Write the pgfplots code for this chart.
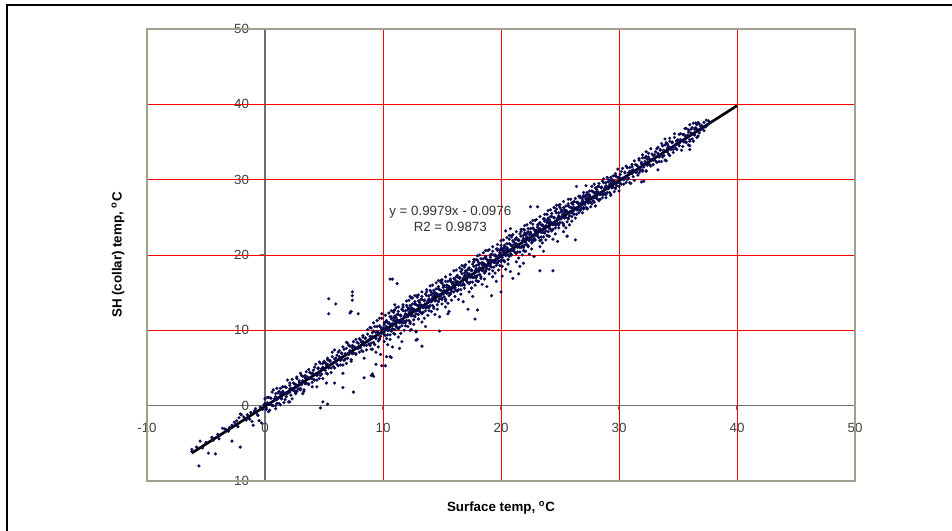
\documentclass[border=0pt]{standalone}
\usepackage{fontspec}
\setmainfont{Liberation Sans}
\usepackage{pgfplots}
\pgfplotsset{compat=1.18}
\definecolor{gridred}{RGB}{255,0,0}
\definecolor{axgray}{RGB}{110,110,110}
\definecolor{bordergray}{RGB}{160,160,145}
\definecolor{navypt}{RGB}{10,10,80}
\begin{document}
\begin{tikzpicture}
\useasboundingbox (0,0) rectangle (714pt,398.25pt);
\fill[white] (0,0) rectangle (714pt,398.25pt);
\draw[line width=1.6pt,black] (5.25pt,-2pt) -- (5.25pt,394.5pt) -- (716pt,394.5pt);
\begin{axis}[
  at={(110.25pt,37.5pt)}, anchor=south west,
  scale only axis, width=531pt, height=339pt,
  xmin=-10, xmax=50, ymin=-10, ymax=50,
  axis lines=middle,
  axis line style={draw=axgray, line width=0.8pt, -},
  every inner x axis line/.append style={-},
  every inner y axis line/.append style={-},
  hide obscured x ticks=false, hide obscured y ticks=false,
  xtick={-10,0,10,20,30,40,50}, ytick={-10,0,10,20,30,40,50},
  xticklabels={-10,0,10,20,30,40,50}, yticklabels={-10,0,10,20,30,40,50},
  major tick length=3.5pt, tick align=outside,
  tick style={draw=axgray, line width=0.8pt},
  tick label style={font=\fontsize{10}{12}\selectfont, text=black!75},
  xticklabel style={yshift=-6pt},
  yticklabel style={xshift=-5pt},
  clip=false,
  after end axis/.code={
    \draw[bordergray, line width=1.1pt] (rel axis cs:0,0) rectangle (rel axis cs:1,1);
  },
]
\draw[gridred, line width=0.75pt] (axis cs:10,-10) -- (axis cs:10,50);
\draw[gridred, line width=0.75pt] (axis cs:20,-10) -- (axis cs:20,50);
\draw[gridred, line width=0.75pt] (axis cs:30,-10) -- (axis cs:30,50);
\draw[gridred, line width=0.75pt] (axis cs:40,-10) -- (axis cs:40,50);
\draw[gridred, line width=0.75pt] (axis cs:-10,10) -- (axis cs:50,10);
\draw[gridred, line width=0.75pt] (axis cs:-10,20) -- (axis cs:50,20);
\draw[gridred, line width=0.75pt] (axis cs:-10,30) -- (axis cs:50,30);
\draw[gridred, line width=0.75pt] (axis cs:-10,40) -- (axis cs:50,40);
\addplot[only marks, mark=*, mark size=1.1pt, color=navypt, mark options={draw=navypt, fill=navypt, line width=0.2pt}] coordinates {
(-6.2,-6.1) (-6.2,-5.8) (-5.6,-8.0) (-5.5,-4.7) (-4.8,-6.3) (-4.2,-6.4) (-3.8,-3.9) (-2.8,-4.7) (-2.1,-5.5) (-3.4,-3.1) (-3.3,-3.2) (-2.6,-2.2) (-2.5,-2.5) (-2.3,-2.8) (-2.1,-1.1) (-2.0,-1.2) (-2.2,-1.6) (-1.3,-1.8) (-1.1,-2.1) (-1.0,-2.6) (-0.7,-1.0) (-0.6,-1.3) (-0.3,-2.3) (-0.5,-2.0) (-4.5,-4.2) (-4.0,-3.8) (-3.6,-3.0) (-3.0,-2.9) (-2.8,-2.6) (-1.8,-1.5) (-1.5,-1.2) (-1.2,-0.9) (-0.9,-0.7) (-0.4,-0.2) (-0.2,-0.5) (-5.0,-4.9) (-3.9,-4.4) (-1.6,-1.9) (-5.8,-5.5) (-5.3,-5.6) (-4.4,-4.6) (-3.1,-3.4) (-2.4,-2.0) (-1.4,-1.5) (-0.8,-0.4) (-0.1,0.1)
(0.0,0.3) (0.1,-0.5) (0.2,1.1) (0.3,0.2) (0.4,-0.6) (0.5,1.0) (0.5,0.2) (0.6,1.8) (0.7,0.0) (0.8,0.9) (0.9,1.6) (0.9,-0.4)
(0.9,0.0) (0.9,1.2) (0.8,0.7) (0.7,2.1) (0.6,0.0) (0.5,1.0) (0.4,0.2) (0.3,1.1) (0.3,-0.8) (0.2,0.4) (0.1,-0.3) (0.0,0.9)
(1.0,0.8) (1.1,1.7) (1.2,0.3) (1.3,1.5) (1.3,2.3) (1.4,1.0) (1.5,1.9) (1.6,0.4) (1.7,2.5) (1.8,1.7) (1.8,1.2) (1.9,3.4)
(1.9,1.6) (1.8,2.4) (1.7,0.8) (1.6,1.7) (1.5,2.5) (1.4,0.9) (1.4,1.7) (1.3,0.1) (1.2,1.9) (1.1,1.0) (1.0,0.3) (1.0,2.3)
(2.1,3.0) (2.1,1.8) (2.2,2.3) (2.3,0.9) (2.4,3.0) (2.5,2.0) (2.6,2.8) (2.7,1.9) (2.7,3.8) (2.8,2.6) (2.9,3.3) (3.0,2.1)
(2.9,3.1) (2.8,2.2) (2.7,3.6) (2.6,2.4) (2.6,1.6) (2.5,2.9) (2.4,2.0) (2.3,3.5) (2.2,1.4) (2.1,2.2) (2.1,2.7) (2.0,0.5)
(3.9,3.6) (3.8,4.4) (3.7,2.8) (3.6,3.7) (3.5,4.5) (3.4,2.9) (3.4,3.7) (3.3,2.1) (3.2,3.9) (3.1,3.0) (3.0,2.3) (3.0,4.3)
(3.1,4.0) (3.1,2.8) (3.2,3.3) (3.3,1.9) (3.4,4.0) (3.5,3.0) (3.6,3.8) (3.7,2.9) (3.7,4.8) (3.8,3.6) (3.9,4.3) (4.0,3.1)
(4.9,5.1) (4.8,4.2) (4.7,5.6) (4.6,4.4) (4.6,3.6) (4.5,4.9) (4.4,4.0) (4.3,5.5) (4.2,3.4) (4.1,4.2) (4.1,4.7) (4.0,2.5)
(4.0,4.3) (4.1,3.5) (4.2,5.1) (4.3,4.2) (4.4,3.4) (4.5,5.0) (4.5,4.2) (4.6,5.8) (4.7,4.0) (4.8,4.9) (4.9,5.6) (4.9,3.6)
(5.9,5.0) (5.9,6.2) (5.8,5.7) (5.7,7.1) (5.6,5.0) (5.5,6.0) (5.4,5.2) (5.3,6.1) (5.3,4.2) (5.2,5.4) (5.1,4.7) (5.0,5.9)
(5.0,4.8) (5.1,5.7) (5.2,4.3) (5.3,5.5) (5.3,6.3) (5.4,5.0) (5.5,5.9) (5.6,4.4) (5.7,6.5) (5.8,5.7) (5.8,5.2) (5.9,7.4)
(6.0,6.3) (6.1,5.5) (6.2,7.1) (6.3,6.2) (6.4,5.4) (6.5,7.0) (6.5,6.2) (6.6,7.8) (6.7,6.0) (6.8,6.9) (6.9,7.6) (6.9,5.6)
(6.0,5.8) (6.1,6.7) (6.2,5.3) (6.3,6.5) (6.3,7.3) (6.4,6.0) (6.5,6.9) (6.6,5.4) (6.7,7.5) (6.8,6.7) (6.8,6.2) (6.9,8.4)
(7.1,8.0) (7.1,6.8) (7.2,7.3) (7.3,5.9) (7.4,8.0) (7.5,7.0) (7.6,7.8) (7.7,6.9) (7.7,8.8) (7.8,7.6) (7.9,8.3) (8.0,7.1)
(7.9,7.6) (7.8,8.4) (7.7,6.8) (7.6,7.7) (7.5,8.5) (7.4,6.9) (7.4,7.7) (7.3,6.1) (7.2,7.9) (7.1,7.0) (7.0,6.3) (7.0,8.3)
(8.0,7.8) (8.1,8.7) (8.2,7.3) (8.3,8.5) (8.3,9.3) (8.4,8.0) (8.5,8.9) (8.6,7.4) (8.7,9.5) (8.8,8.7) (8.8,8.2) (8.9,10.4)
(8.9,8.0) (8.9,9.2) (8.8,8.7) (8.7,10.1) (8.6,8.0) (8.5,9.0) (8.4,8.2) (8.3,9.1) (8.3,7.2) (8.2,8.4) (8.1,7.7) (8.0,8.9)
(9.9,9.6) (9.8,10.4) (9.7,8.8) (9.6,9.7) (9.5,10.5) (9.4,8.9) (9.4,9.7) (9.3,8.1) (9.2,9.9) (9.1,9.0) (9.0,8.3) (9.0,10.3)
(9.9,10.1) (9.8,9.2) (9.7,10.6) (9.6,9.4) (9.6,8.6) (9.5,9.9) (9.4,9.0) (9.3,10.5) (9.2,8.4) (9.1,9.2) (9.1,9.7) (9.0,7.5)
(9.1,7.5) (9.2,11.0) (9.4,7.1) (9.5,11.3) (9.6,7.8) (9.7,11.6) (9.8,6.8) (9.9,11.6)
(10.0,10.3) (10.1,9.5) (10.2,11.1) (10.3,10.2) (10.4,9.4) (10.5,11.0) (10.5,10.2) (10.6,11.8) (10.7,10.0) (10.8,10.9) (10.9,11.6) (10.9,9.6)
(10.0,9.8) (10.1,10.7) (10.2,9.3) (10.3,10.5) (10.3,11.3) (10.4,10.0) (10.5,10.9) (10.6,9.4) (10.7,11.5) (10.8,10.7) (10.8,10.2) (10.9,12.4)
(10.1,11.0) (10.1,9.8) (10.2,10.3) (10.3,8.9) (10.4,11.0) (10.5,10.0) (10.6,10.8) (10.7,9.9) (10.7,11.8) (10.8,10.6) (10.9,11.3) (11.0,10.1)
(10.1,8.5) (10.2,12.0) (10.4,8.1) (10.5,12.3) (10.6,8.8) (10.7,12.6) (10.8,7.8) (10.9,12.6)
(11.9,12.1) (11.8,11.2) (11.7,12.6) (11.6,11.4) (11.6,10.6) (11.5,11.9) (11.4,11.0) (11.3,12.5) (11.2,10.4) (11.1,11.2) (11.1,11.7) (11.0,9.5)
(11.9,11.0) (11.9,12.2) (11.8,11.7) (11.7,13.1) (11.6,11.0) (11.5,12.0) (11.4,11.2) (11.3,12.1) (11.3,10.2) (11.2,11.4) (11.1,10.7) (11.0,11.9)
(11.0,11.3) (11.1,10.5) (11.2,12.1) (11.3,11.2) (11.4,10.4) (11.5,12.0) (11.5,11.2) (11.6,12.8) (11.7,11.0) (11.8,11.9) (11.9,12.6) (11.9,10.6)
(11.0,12.7) (11.3,9.1) (11.3,13.1) (11.5,9.6) (11.6,8.5) (11.7,13.4) (11.8,10.0) (12.0,13.9)
(12.1,13.0) (12.1,11.8) (12.2,12.3) (12.3,10.9) (12.4,13.0) (12.5,12.0) (12.6,12.8) (12.7,11.9) (12.7,13.8) (12.8,12.6) (12.9,13.3) (13.0,12.1)
(12.9,12.6) (12.8,13.4) (12.7,11.8) (12.6,12.7) (12.5,13.5) (12.4,11.9) (12.4,12.7) (12.3,11.1) (12.2,12.9) (12.1,12.0) (12.0,11.3) (12.0,13.3)
(12.0,11.8) (12.1,12.7) (12.2,11.3) (12.3,12.5) (12.3,13.3) (12.4,12.0) (12.5,12.9) (12.6,11.4) (12.7,13.5) (12.8,12.7) (12.8,12.2) (12.9,14.4)
(12.1,10.5) (12.2,14.0) (12.4,10.1) (12.5,14.3) (12.6,10.8) (12.7,14.6) (12.8,9.8) (12.9,14.6)
(13.0,13.3) (13.1,12.5) (13.2,14.1) (13.3,13.2) (13.4,12.4) (13.5,14.0) (13.5,13.2) (13.6,14.8) (13.7,13.0) (13.8,13.9) (13.9,14.6) (13.9,12.6)
(13.9,14.1) (13.8,13.2) (13.7,14.6) (13.6,13.4) (13.6,12.6) (13.5,13.9) (13.4,13.0) (13.3,14.5) (13.2,12.4) (13.1,13.2) (13.1,13.7) (13.0,11.5)
(13.9,13.0) (13.9,14.2) (13.8,13.7) (13.7,15.1) (13.6,13.0) (13.5,14.0) (13.4,13.2) (13.3,14.1) (13.3,12.2) (13.2,13.4) (13.1,12.7) (13.0,13.9)
(13.0,14.7) (13.3,11.1) (13.3,15.1) (13.5,11.6) (13.6,10.5) (13.7,15.4) (13.8,12.0) (14.0,15.9)
(14.0,13.8) (14.1,14.7) (14.2,13.3) (14.3,14.5) (14.3,15.3) (14.4,14.0) (14.5,14.9) (14.6,13.4) (14.7,15.5) (14.8,14.7) (14.8,14.2) (14.9,16.4)
(14.1,15.0) (14.1,13.8) (14.2,14.3) (14.3,12.9) (14.4,15.0) (14.5,14.0) (14.6,14.8) (14.7,13.9) (14.7,15.8) (14.8,14.6) (14.9,15.3) (15.0,14.1)
(14.9,14.6) (14.8,15.4) (14.7,13.8) (14.6,14.7) (14.5,15.5) (14.4,13.9) (14.4,14.7) (14.3,13.1) (14.2,14.9) (14.1,14.0) (14.0,13.3) (14.0,15.3)
(14.1,12.5) (14.2,16.0) (14.4,12.1) (14.5,16.3) (14.6,12.8) (14.7,16.6) (14.8,11.8) (14.9,16.6)
(15.9,15.6) (15.8,16.4) (15.7,14.8) (15.6,15.7) (15.5,16.5) (15.4,14.9) (15.4,15.7) (15.3,14.1) (15.2,15.9) (15.1,15.0) (15.0,14.3) (15.0,16.3)
(15.9,16.1) (15.8,15.2) (15.7,16.6) (15.6,15.4) (15.6,14.6) (15.5,15.9) (15.4,15.0) (15.3,16.5) (15.2,14.4) (15.1,15.2) (15.1,15.7) (15.0,13.5)
(15.1,16.0) (15.1,14.8) (15.2,15.3) (15.3,13.9) (15.4,16.0) (15.5,15.0) (15.6,15.8) (15.7,14.9) (15.7,16.8) (15.8,15.6) (15.9,16.3) (16.0,15.1)
(15.0,16.7) (15.3,13.1) (15.3,17.1) (15.5,13.6) (15.6,12.5) (15.7,17.4) (15.8,14.0) (16.0,17.9)
(16.9,16.0) (16.9,17.2) (16.8,16.7) (16.7,18.1) (16.6,16.0) (16.5,17.0) (16.4,16.2) (16.3,17.1) (16.3,15.2) (16.2,16.4) (16.1,15.7) (16.0,16.9)
(16.0,16.3) (16.1,15.5) (16.2,17.1) (16.3,16.2) (16.4,15.4) (16.5,17.0) (16.5,16.2) (16.6,17.8) (16.7,16.0) (16.8,16.9) (16.9,17.6) (16.9,15.6)
(16.0,15.8) (16.1,16.7) (16.2,15.3) (16.3,16.5) (16.3,17.3) (16.4,16.0) (16.5,16.9) (16.6,15.4) (16.7,17.5) (16.8,16.7) (16.8,16.2) (16.9,18.4)
(16.1,14.5) (16.2,18.0) (16.4,14.1) (16.5,18.3) (16.6,14.8) (16.7,18.6) (16.8,13.8) (16.9,18.6)
(17.0,17.3) (17.1,16.5) (17.2,18.1) (17.3,17.2) (17.4,16.4) (17.5,18.0) (17.5,17.2) (17.6,18.8) (17.7,17.0) (17.8,17.9) (17.9,18.6) (17.9,16.6)
(17.0,16.8) (17.1,17.7) (17.2,16.3) (17.3,17.5) (17.3,18.3) (17.4,17.0) (17.5,17.9) (17.6,16.4) (17.7,18.5) (17.8,17.7) (17.8,17.2) (17.9,19.4)
(17.9,17.0) (17.9,18.2) (17.8,17.7) (17.7,19.1) (17.6,17.0) (17.5,18.0) (17.4,17.2) (17.3,18.1) (17.3,16.2) (17.2,17.4) (17.1,16.7) (17.0,17.9)
(17.0,18.7) (17.3,15.1) (17.3,19.1) (17.5,15.6) (17.6,14.5) (17.7,19.4) (17.8,16.0) (18.0,19.9)
(18.9,19.1) (18.8,18.2) (18.7,19.6) (18.6,18.4) (18.6,17.6) (18.5,18.9) (18.4,18.0) (18.3,19.5) (18.2,17.4) (18.1,18.2) (18.1,18.7) (18.0,16.5)
(18.1,19.0) (18.1,17.8) (18.2,18.3) (18.3,16.9) (18.4,19.0) (18.5,18.0) (18.6,18.8) (18.7,17.9) (18.7,19.8) (18.8,18.6) (18.9,19.3) (19.0,18.1)
(18.9,18.6) (18.8,19.4) (18.7,17.8) (18.6,18.7) (18.5,19.5) (18.4,17.9) (18.4,18.7) (18.3,17.1) (18.2,18.9) (18.1,18.0) (18.0,17.3) (18.0,19.3)
(18.1,16.5) (18.2,20.0) (18.4,16.1) (18.5,20.3) (18.6,16.8) (18.7,20.6) (18.8,15.8) (18.9,20.6)
(19.1,20.0) (19.1,18.8) (19.2,19.3) (19.3,17.9) (19.4,20.0) (19.5,19.0) (19.6,19.8) (19.7,18.9) (19.7,20.8) (19.8,19.6) (19.9,20.3) (20.0,19.1)
(19.0,19.3) (19.1,18.5) (19.2,20.1) (19.3,19.2) (19.4,18.4) (19.5,20.0) (19.5,19.2) (19.6,20.8) (19.7,19.0) (19.8,19.9) (19.9,20.6) (19.9,18.6)
(19.9,20.1) (19.8,19.2) (19.7,20.6) (19.6,19.4) (19.6,18.6) (19.5,19.9) (19.4,19.0) (19.3,20.5) (19.2,18.4) (19.1,19.2) (19.1,19.7) (19.0,17.5)
(19.0,20.7) (19.3,17.1) (19.3,21.1) (19.5,17.6) (19.6,16.5) (19.7,21.4) (19.8,18.0) (20.0,21.9)
(20.9,20.6) (20.8,21.4) (20.7,19.8) (20.6,20.7) (20.5,21.5) (20.4,19.9) (20.4,20.7) (20.3,19.1) (20.2,20.9) (20.1,20.0) (20.0,19.3) (20.0,21.3)
(20.0,19.8) (20.1,20.7) (20.2,19.3) (20.3,20.5) (20.3,21.3) (20.4,20.0) (20.5,20.9) (20.6,19.4) (20.7,21.5) (20.8,20.7) (20.8,20.2) (20.9,22.4)
(20.9,20.0) (20.9,21.2) (20.8,20.7) (20.7,22.1) (20.6,20.0) (20.5,21.0) (20.4,20.2) (20.3,21.1) (20.3,19.2) (20.2,20.4) (20.1,19.7) (20.0,20.9)
(20.1,18.5) (20.2,22.0) (20.4,18.1) (20.5,22.3) (20.6,18.8) (20.7,22.6) (20.8,17.8) (20.9,22.6)
(21.0,20.8) (21.1,21.7) (21.2,20.3) (21.3,21.5) (21.3,22.3) (21.4,21.0) (21.5,21.9) (21.6,20.4) (21.7,22.5) (21.8,21.7) (21.8,21.2) (21.9,23.4)
(21.9,21.0) (21.9,22.2) (21.8,21.7) (21.7,23.1) (21.6,21.0) (21.5,22.0) (21.4,21.2) (21.3,22.1) (21.3,20.2) (21.2,21.4) (21.1,20.7) (21.0,21.9)
(21.0,21.3) (21.1,20.5) (21.2,22.1) (21.3,21.2) (21.4,20.4) (21.5,22.0) (21.5,21.2) (21.6,22.8) (21.7,21.0) (21.8,21.9) (21.9,22.6) (21.9,20.6)
(21.0,22.7) (21.3,19.1) (21.3,23.1) (21.5,19.6) (21.6,18.5) (21.7,23.4) (21.8,20.0) (22.0,23.9)
(22.9,22.0) (22.9,23.2) (22.8,22.7) (22.7,24.1) (22.6,22.0) (22.5,23.0) (22.4,22.2) (22.3,23.1) (22.3,21.2) (22.2,22.4) (22.1,21.7) (22.0,22.9)
(22.9,22.6) (22.8,23.4) (22.7,21.8) (22.6,22.7) (22.5,23.5) (22.4,21.9) (22.4,22.7) (22.3,21.1) (22.2,22.9) (22.1,22.0) (22.0,21.3) (22.0,23.3)
(22.9,23.1) (22.8,22.2) (22.7,23.6) (22.6,22.4) (22.6,21.6) (22.5,22.9) (22.4,22.0) (22.3,23.5) (22.2,21.4) (22.1,22.2) (22.1,22.7) (22.0,20.5)
(22.1,20.5) (22.2,24.0) (22.4,20.1) (22.5,24.3) (22.6,20.8) (22.7,24.6) (22.8,19.8) (22.9,24.6)
(23.0,23.3) (23.1,22.5) (23.2,24.1) (23.3,23.2) (23.4,22.4) (23.5,24.0) (23.5,23.2) (23.6,24.8) (23.7,23.0) (23.8,23.9) (23.9,24.6) (23.9,22.6)
(23.1,24.0) (23.1,22.8) (23.2,23.3) (23.3,21.9) (23.4,24.0) (23.5,23.0) (23.6,23.8) (23.7,22.9) (23.7,24.8) (23.8,23.6) (23.9,24.3) (24.0,23.1)
(23.0,22.8) (23.1,23.7) (23.2,22.3) (23.3,23.5) (23.3,24.3) (23.4,23.0) (23.5,23.9) (23.6,22.4) (23.7,24.5) (23.8,23.7) (23.8,23.2) (23.9,25.4)
(23.0,24.7) (23.3,21.1) (23.3,25.1) (23.5,21.6) (23.6,20.5) (23.7,25.4) (23.8,22.0) (24.0,25.9)
(24.9,25.1) (24.8,24.2) (24.7,25.6) (24.6,24.4) (24.6,23.6) (24.5,24.9) (24.4,24.0) (24.3,25.5) (24.2,23.4) (24.1,24.2) (24.1,24.7) (24.0,22.5)
(24.0,24.3) (24.1,23.5) (24.2,25.1) (24.3,24.2) (24.4,23.4) (24.5,25.0) (24.5,24.2) (24.6,25.8) (24.7,24.0) (24.8,24.9) (24.9,25.6) (24.9,23.6)
(24.9,24.0) (24.9,25.2) (24.8,24.7) (24.7,26.1) (24.6,24.0) (24.5,25.0) (24.4,24.2) (24.3,25.1) (24.3,23.2) (24.2,24.4) (24.1,23.7) (24.0,24.9)
(24.1,22.5) (24.2,26.0) (24.4,22.1) (24.5,26.3) (24.6,22.8) (24.7,26.6) (24.8,21.8) (24.9,26.6)
(25.1,26.0) (25.1,24.8) (25.2,25.3) (25.3,23.9) (25.4,26.0) (25.5,25.0) (25.6,25.8) (25.7,24.9) (25.7,26.8) (25.8,25.6) (25.9,26.3) (26.0,25.1)
(25.0,24.8) (25.1,25.7) (25.2,24.3) (25.3,25.5) (25.3,26.3) (25.4,25.0) (25.5,25.9) (25.6,24.4) (25.7,26.5) (25.8,25.7) (25.8,25.2) (25.9,27.4)
(25.9,25.6) (25.8,26.4) (25.7,24.8) (25.6,25.7) (25.5,26.5) (25.4,24.9) (25.4,25.7) (25.3,24.1) (25.2,25.9) (25.1,25.0) (25.0,24.3) (25.0,26.3)
(25.0,26.7) (25.3,23.1) (25.3,27.1) (25.5,23.6) (25.6,22.5) (25.7,27.4) (25.8,24.0) (26.0,26.9)
(26.0,26.3) (26.1,25.5) (26.2,27.1) (26.3,26.2) (26.4,25.4) (26.5,27.0) (26.5,26.2) (26.6,27.8) (26.7,26.0) (26.8,26.9) (26.9,27.6) (26.9,25.6)
(26.9,27.1) (26.8,26.2) (26.7,27.6) (26.6,26.4) (26.6,25.6) (26.5,26.9) (26.4,26.0) (26.3,27.5) (26.2,25.4) (26.1,26.2) (26.1,26.7) (26.0,24.5)
(26.1,27.0) (26.1,25.8) (26.2,26.3) (26.3,24.9) (26.4,27.0) (26.5,26.0) (26.6,26.8) (26.7,25.9) (26.7,27.8) (26.8,26.6) (26.9,27.3) (27.0,26.1)
(27.0,26.8) (27.1,27.7) (27.2,26.3) (27.3,27.5) (27.3,28.3) (27.4,27.0) (27.5,27.9) (27.6,26.4) (27.7,28.5) (27.8,27.7) (27.8,27.2) (27.9,29.4)
(27.9,27.0) (27.9,28.2) (27.8,27.7) (27.7,29.1) (27.6,27.0) (27.5,28.0) (27.4,27.2) (27.3,28.1) (27.3,26.2) (27.2,27.4) (27.1,26.7) (27.0,27.9)
(27.9,27.6) (27.8,28.4) (27.7,26.8) (27.6,27.7) (27.5,28.5) (27.4,26.9) (27.4,27.7) (27.3,26.1) (27.2,27.9) (27.1,27.0) (27.0,26.3) (27.0,28.3)
(28.9,28.0) (28.9,29.2) (28.8,28.7) (28.7,30.1) (28.6,28.0) (28.5,29.0) (28.4,28.2) (28.3,29.1) (28.3,27.2) (28.2,28.4) (28.1,27.7) (28.0,28.9)
(28.0,28.3) (28.1,27.5) (28.2,29.1) (28.3,28.2) (28.4,27.4) (28.5,29.0) (28.5,28.2) (28.6,29.8) (28.7,28.0) (28.8,28.9) (28.9,29.6) (28.9,27.6)
(28.9,29.1) (28.8,28.2) (28.7,29.6) (28.6,28.4) (28.6,27.6) (28.5,28.9) (28.4,28.0) (28.3,29.5) (28.2,27.4) (28.1,28.2) (28.1,28.7) (28.0,26.5)
(29.9,29.6) (29.8,30.4) (29.7,28.8) (29.6,29.7) (29.5,30.5) (29.4,28.9) (29.4,29.7) (29.3,28.1) (29.2,29.9) (29.1,29.0) (29.0,28.3) (29.0,30.3)
(29.1,30.0) (29.1,28.8) (29.2,29.3) (29.3,27.9) (29.4,30.0) (29.5,29.0) (29.6,29.8) (29.7,28.9) (29.7,30.8) (29.8,29.6) (29.9,30.3) (30.0,29.1)
(29.0,28.8) (29.1,29.7) (29.2,28.3) (29.3,29.5) (29.3,30.3) (29.4,29.0) (29.5,29.9) (29.6,28.4) (29.7,30.5) (29.8,29.7) (29.8,29.2) (29.9,31.4)
(30.9,31.1) (30.8,30.2) (30.7,31.6) (30.6,30.4) (30.6,29.6) (30.5,30.9) (30.4,30.0) (30.3,31.5) (30.2,29.4) (30.1,30.2) (30.1,30.7) (30.0,28.5)
(30.0,30.3) (30.1,29.5) (30.2,31.1) (30.3,30.2) (30.4,29.4) (30.5,31.0) (30.5,30.2) (30.6,31.8) (30.7,30.0) (30.8,30.9) (30.9,31.6) (30.9,29.6)
(31.1,32.0) (31.1,30.8) (31.2,31.3) (31.3,29.9) (31.4,32.0) (31.5,31.0) (31.6,31.8) (31.7,30.9) (31.7,32.8) (31.8,31.6) (31.9,32.3) (32.0,31.1)
(31.9,32.1) (31.8,31.2) (31.7,32.6) (31.6,31.4) (31.6,30.6) (31.5,31.9) (31.4,31.0) (31.3,32.5) (31.2,30.4) (31.1,31.2) (31.1,31.7) (31.0,29.5)
(32.9,32.6) (32.8,33.4) (32.7,31.8) (32.6,32.7) (32.5,33.5) (32.4,31.9) (32.4,32.7) (32.3,31.1) (32.2,32.9) (32.1,32.0) (32.0,31.3) (32.0,33.3)
(32.9,32.0) (32.9,33.2) (32.8,32.7) (32.7,34.1) (32.6,32.0) (32.5,33.0) (32.4,32.2) (32.3,33.1) (32.3,31.2) (32.2,32.4) (32.1,31.7) (32.0,32.9)
(33.0,32.8) (33.1,33.7) (33.2,32.3) (33.3,33.5) (33.3,34.3) (33.4,33.0) (33.5,33.9) (33.6,32.4) (33.7,34.5) (33.8,33.7) (33.8,33.2) (33.9,35.4)
(33.0,33.3) (33.1,32.5) (33.2,34.1) (33.3,33.2) (33.4,32.4) (33.5,34.0) (33.5,33.2) (33.6,34.8) (33.7,33.0) (33.8,33.9) (33.9,34.6) (33.9,32.6)
(34.9,34.0) (34.9,35.2) (34.8,34.7) (34.7,36.1) (34.6,34.0) (34.5,35.0) (34.4,34.2) (34.3,35.1) (34.3,33.2) (34.2,34.4) (34.1,33.7) (34.0,34.9)
(34.9,35.1) (34.8,34.2) (34.7,35.6) (34.6,34.4) (34.6,33.6) (34.5,34.9) (34.4,34.0) (34.3,35.5) (34.2,33.4) (34.1,34.2) (34.1,34.7) (34.0,32.5)
(35.0,35.3) (35.1,34.5) (35.2,36.1) (35.3,35.2) (35.4,34.4) (35.5,36.0) (35.5,35.2) (35.6,36.8) (35.7,35.0) (35.8,35.9) (35.9,36.6) (35.9,34.6)
(35.1,36.0) (35.1,34.8) (35.2,35.3) (35.3,33.9) (35.4,36.0) (35.5,35.0) (35.6,35.8) (35.7,34.9) (35.7,36.8) (35.8,35.6) (35.9,36.3) (36.0,35.1)
(36.9,37.1) (36.8,36.2) (36.7,37.6) (36.6,36.4) (36.6,35.6) (36.5,36.9) (36.4,36.0) (36.3,37.5) (36.2,35.4) (36.1,36.2) (36.1,36.7) (36.0,34.5)
(36.9,36.6) (36.8,37.4) (36.7,35.8) (36.6,36.7) (36.5,37.5) (36.4,35.9) (36.4,36.7) (36.3,35.1) (36.2,36.9) (36.1,36.0) (36.0,35.3) (36.0,37.3)
(37.0,37.2) (37.1,36.8) (37.2,37.6) (37.3,37.0) (37.4,37.9) (37.5,37.3) (37.6,37.8) (37.7,37.6) (37.2,36.5) (37.4,37.1)
(5.4,14.2) (6.0,13.5) (5.4,12.2) (7.4,15.1) (7.4,14.6) (7.4,14.0) (7.2,12.3) (7.9,12.2) (7.3,12.5) (10.6,16.8) (10.8,16.8) (11.2,16.2) (12.3,14.5) (12.4,14.3) (11.0,13.4) (11.1,13.0) (9.9,12.2) (12.9,8.8) (13.3,7.9) (11.4,7.6) (10.7,6.4) (10.3,6.5) (10.2,5.3) (9.9,5.3) (9.4,5.5) (8.4,6.3) (9.2,3.9) (9.0,4.0) (14.8,9.9) (12.8,9.9) (15.5,12.2) (17.8,11.5) (17.2,12.8) (18.0,12.7) (19.2,14.6) (20.0,15.1) (20.1,17.2) (21.5,17.5) (21.9,18.9) (23.3,17.9) (24.4,17.9) (21.0,16.9) (22.5,26.4) (23.1,26.4) (20.8,23.5) (20.4,23.2) (26.3,22.0) (25.6,22.5) (22.8,22.0) (23.4,22.0) (26.4,29.1) (27.2,29.2) (36.0,34.0) (33.3,31.3) (31.9,29.7) (32.1,29.8) (32.3,33.7) (36.6,37.3)
(4.9,0.5) (5.3,0.2) (4.7,-0.3) (7.5,1.8) (6.6,2.4) (6.6,4.3) (5.9,3.0) (5.2,3.0) (4.4,2.5) (3.2,1.6) (2.6,1.7) (2.1,0.5) (9.7,8.9) (10.6,6.5) (8.4,3.7) (9.1,4.2) (12.8,8.7) (12.3,10.0)
};
\addplot[black, line width=2pt] coordinates {(-6.2,-6.285) (40,39.818)};
\node[align=center, font=\fontsize{10}{12}\selectfont, text=black!80] at (axis cs:15.7,24.8) {y = 0.9979x - 0.0976\\R2 = 0.9873};
\node[font=\bfseries\fontsize{10}{12}\selectfont] at (axis description cs:0.5,-0.06) {Surface temp, \textsuperscript{o}C};
\node[font=\bfseries\fontsize{10}{12}\selectfont, rotate=90] at (axis description cs:-0.041,0.5) {SH (collar) temp, \textsuperscript{o}C};
\end{axis}
\end{tikzpicture}
\end{document}
